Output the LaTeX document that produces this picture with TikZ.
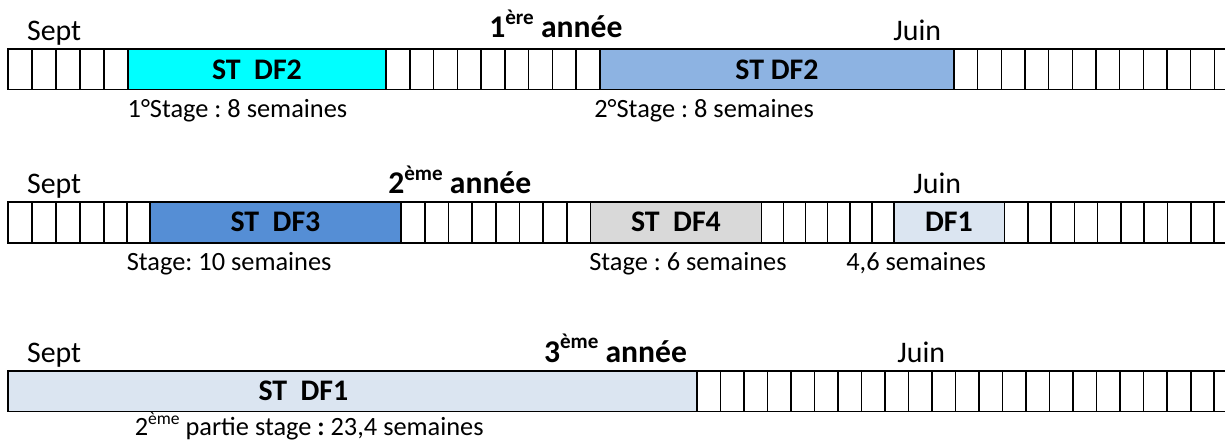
\documentclass[tikz,border=0pt]{standalone}
\usepackage{fontspec}
\setmainfont{Carlito}
\usetikzlibrary{positioning}
\frenchspacing
% raised small text (ère, ème)
\newcommand\expo[2][12]{\raisebox{0.42em}{\fontsize{#1}{#1}\selectfont #2}}

\begin{document}
\begin{tikzpicture}[
		x=0.02cm,y=-0.02cm,
		line cap=rect,line join=miter,
		]
		% ---- colors
		\definecolor{stCyan}{RGB}{0,255,255}
		\definecolor{stBlueA}{RGB}{141,179,226}
		\definecolor{stBlueB}{RGB}{85,142,213}
		\definecolor{stGray}{RGB}{217,217,217}
		\definecolor{stPale}{RGB}{219,229,241}
		
		\tikzset{
			cellline/.style={black, line width=0.9pt},
			month/.style={font=\fontsize{17}{20}\selectfont, anchor=base west, inner sep=0pt},
			yearlbl/.style={font=\fontsize{18}{21}\selectfont\bfseries, anchor=base west, inner sep=0pt},
			stlabel/.style={font=\fontsize{17}{20}\selectfont\bfseries, inner sep=0pt},
			duree/.style={font=\fontsize{15}{18}\selectfont, anchor=base west, inner sep=0pt}
		}
		
		\useasboundingbox (0,0) rectangle (1225,441);
		\clip (0,0) rectangle (1225,441);
		
		% ---- parameters
		\def\xL{8}
		\def\xR{1245}
		
		% ===================== ANNEE 1 =====================
		\def\yT{49}
		\def\yB{89.5}
		\fill[stCyan] (128,\yT) rectangle (386,\yB);
		\fill[stBlueA] (600,\yT) rectangle (954,\yB);
		\foreach \x in {32,56,80,104,128,386,600,954}{
			\draw[cellline] (\x,\yT) -- (\x,\yB);
		}
		\foreach \i in {1,...,8}{
			\draw[cellline] ({386+\i*23.78},\yT) -- ({386+\i*23.78},\yB);
		}
		\foreach \i in {1,...,12}{
			\draw[cellline] ({954+\i*23.67},\yT) -- ({954+\i*23.67},\yB);
		}
		\draw[cellline] (\xR,\yT) -- (\xL,\yT) -- (\xL,\yB) -- (\xR,\yB);
		
		\node[month] (sept1) at (26.7,40) {Sept};
		\node[yearlbl] (annee1) at (489,37.5) {1\expo{ère} année};
		\node[month] (juin1) at (893,40) {Juin};
		\node[stlabel] (st1a) at (257,69.5) {ST~~DF2};
		\node[stlabel] (st1b) at (777,69.5) {ST DF2};
		\node[duree] (dur1a) at (127.3,117) {1°Stage : 8 semaines};
		\node[duree] (dur1b) at (594,117) {2°Stage : 8 semaines};
		
		% ===================== ANNEE 2 =====================
		\def\yT{201.7}
		\def\yB{242.7}
		\fill[stBlueB] (150,\yT) rectangle (401,\yB);
		\fill[stGray] (590.7,\yT) rectangle (761.4,\yB);
		\fill[stPale] (894,\yT) rectangle (1004.5,\yB);
		\foreach \x in {32,56,80,104,127,150,401,590.7,761.4,894,1004.5}{
			\draw[cellline] (\x,\yT) -- (\x,\yB);
		}
		\foreach \i in {1,...,7}{
			\draw[cellline] ({401+\i*23.71},\yT) -- ({401+\i*23.71},\yB);
		}
		\foreach \i in {1,...,5}{
			\draw[cellline] ({761.4+\i*22.1},\yT) -- ({761.4+\i*22.1},\yB);
		}
		\foreach \i in {1,...,10}{
			\draw[cellline] ({1004.5+\i*23.28},\yT) -- ({1004.5+\i*23.28},\yB);
		}
		\draw[cellline] (\xR,\yT) -- (\xL,\yT) -- (\xL,\yB) -- (\xR,\yB);
		
		\node[month] (sept2) at (26.7,193.3) {Sept};
		\node[yearlbl] (annee2) at (388,193.3) {2\expo{ème} année};
		\node[month] (juin2) at (913,193.3) {Juin};
		\node[stlabel] (st2a) at (275.5,222.2) {ST~~DF3};
		\node[stlabel] (st2b) at (676,222.2) {ST~~DF4};
		\node[stlabel] (st2c) at (949,222.2) {DF1};
		\node[duree] (dur2a) at (126.5,270.5) {Stage: 10 semaines};
		\node[duree] (dur2b) at (589,270.5) {Stage : 6 semaines};
		\node[duree] (dur2c) at (846,270.5) {4,6 semaines};
		
		% ===================== ANNEE 3 =====================
		\def\yT{370.8}
		\def\yB{411.3}
		\fill[stPale] (\xL,\yT) rectangle (697,\yB);
		\draw[cellline] (697,\yT) -- (697,\yB);
		\foreach \i in {1,...,23}{
			\draw[cellline] ({697+\i*23.51},\yT) -- ({697+\i*23.51},\yB);
		}
		\draw[cellline] (\xR,\yT) -- (\xL,\yT) -- (\xL,\yB) -- (\xR,\yB);
		
		\node[month] (sept3) at (26.7,362) {Sept};
		\node[yearlbl] (annee3) at (543.7,362) {3\expo{ème} année};
		\node[month] (juin3) at (897,362) {Juin};
		\node[stlabel] (st3a) at (303.4,391) {ST~~DF1};
		\node[duree] (dur3a) at (134.4,435.5) {2\expo[10]{ème} partie stage \textbf{:} 23,4 semaines};
		
	\end{tikzpicture}
\end{document}
